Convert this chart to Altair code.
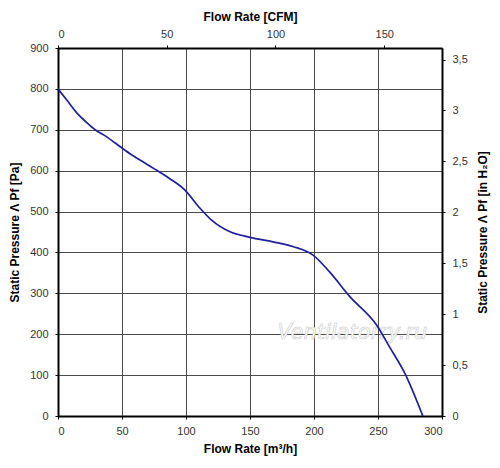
import altair as alt
import pandas as pd

# Fan curve
flow_m3h = [0, 7, 15, 22, 29, 36, 45, 56, 64, 75, 87, 99, 111, 120, 134, 150, 168, 184, 199, 212, 228, 249, 259, 271, 285]
pressure_pa = [800, 772, 740, 719, 700, 687, 667, 642, 626, 605, 581, 553, 508, 479, 451, 437, 426, 414, 394, 353, 292, 222, 169, 104, 0]

x_ticks = [0, 50, 100, 150, 200, 250, 300]
y_ticks = [0, 100, 200, 300, 400, 500, 600, 700, 800, 900]
cfm_ticks = [0, 50, 100, 150]
inh2o_ticks = [0, 0.5, 1, 1.5, 2, 2.5, 3, 3.5]

# secondary unit ranges (300 m3/h and 900 Pa converted)
cfm_range = [0, 176.57]
inh2o_range = [0, 3.613]

wm_flow = [230]
wm_pressure = [202]
wm_text = ["Ventilatorry.ru"]

df = pd.DataFrame({"flow": flow_m3h, "pressure": pressure_pa})
df2 = pd.DataFrame({"cfm": cfm_range, "inh2o": inh2o_range})
dfw = pd.DataFrame({"flow": wm_flow, "pressure": wm_pressure, "label": wm_text})

FONT = "Liberation Sans"
common = dict(
    labelFont=FONT, labelFontSize=11, labelColor="#333333",
    titleFont=FONT, titleFontSize=12, titleFontWeight="bold", titleColor="#000000",
    domainColor="#000000", domainWidth=2, tickColor="#000000", tickSize=3,
)

xs = alt.Scale(domain=[0, 300], nice=False, zero=True)
ys = alt.Scale(domain=[0, 900], nice=False, zero=True)

line = alt.Chart(df).mark_line(color="#1f1f9e", strokeWidth=1.7, interpolate="monotone").encode(
    x=alt.X("flow:Q", scale=xs,
            axis=alt.Axis(orient="bottom", values=x_ticks, title="Flow Rate [m³/h]",
                          grid=True, gridColor="#4a4a4a", gridWidth=1,
                          labelPadding=6, titlePadding=7, **common)),
    y=alt.Y("pressure:Q", scale=ys,
            axis=alt.Axis(orient="left", values=y_ticks, title="Static Pressure Λ Pf [Pa]",
                          grid=True, gridColor="#4a4a4a", gridWidth=1,
                          labelPadding=7, titlePadding=8, titleAngle=270, **common)),
)

wm = alt.Chart(dfw).mark_text(
    font="DejaVu Sans", fontStyle="italic", fontSize=21, color="#ffffff",
    stroke="#d0d0d0", strokeWidth=0.7,
).encode(x="flow:Q", y="pressure:Q", text="label:N")

main = alt.layer(wm, line)

sec = alt.Chart(df2).mark_point(opacity=0).encode(
    x=alt.X("cfm:Q", scale=alt.Scale(domain=cfm_range, nice=False, zero=True),
            axis=alt.Axis(orient="top", values=cfm_ticks, title="Flow Rate [CFM]",
                          grid=False, labelPadding=6, titlePadding=5, **common)),
    y=alt.Y("inh2o:Q", scale=alt.Scale(domain=inh2o_range, nice=False, zero=True),
            axis=alt.Axis(orient="right", values=inh2o_ticks, title="Static Pressure Λ Pf [in H₂O]",
                          grid=False, labelPadding=7, titlePadding=10, titleAngle=270,
                          titleBaseline="top", format="~g",
                          labelExpr="replace(datum.label, '.', ',')", **common)),
)

chart = alt.layer(main, sec).resolve_scale(x="independent", y="independent").properties(
    width=384, height=368,
    autosize=alt.AutoSizeParams(type="none"),
    padding={"left": 50, "top": 40, "right": 50, "bottom": 44},
).configure_view(stroke="#000000", strokeWidth=2).configure(background="#ffffff")

chart.save("out.html", embed_options={"renderer": "svg", "actions": False})
